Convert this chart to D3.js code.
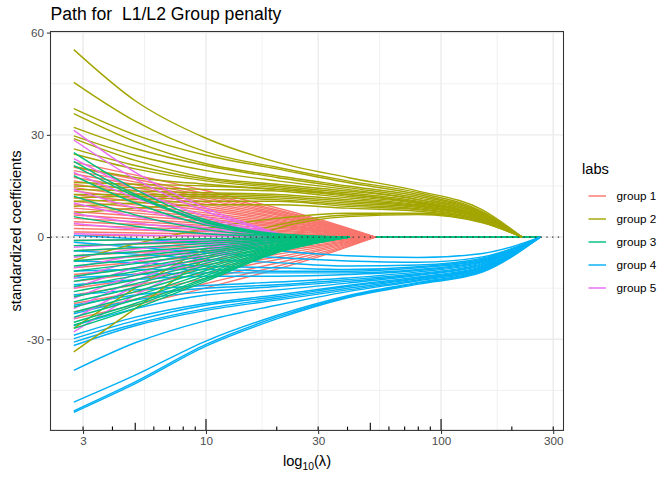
<!DOCTYPE html>
<html><head><meta charset="utf-8">
<script src="https://cdn.jsdelivr.net/npm/d3@7"></script>
<style>body{margin:0;background:#fff}svg{display:block}text{font-family:"Liberation Sans",Arial,Helvetica,sans-serif}</style>
</head><body><svg id="chart" width="672" height="480"></svg>
<script>
const groupLabels = ["group 1","group 2","group 3","group 4","group 5"];
const groupColors = ["#F8766D","#A3A500","#00BF7D","#00B0F6","#E76BF3"];
const xTickValues = [3,10,30,100,300];
const xTickLabels = ["3","10","30","100","300"];
const yTickValues = [-30,0,30,60];
const yTickLabels = ["-30","0","30","60"];
const logTickValues = [3,4,5,6,7,8,9,10,20,30,40,50,60,70,80,90,100,200,300];

// lambda grids (read positions) per group
const lambdaGroup1 = [2.74, 10, 30, 52.5, 264];
const lambdaGroup2 = [2.74, 5, 10, 20, 40, 80, 150, 221, 264];
const lambdaGroup3 = [2.74, 5, 10, 20, 41, 264];
const lambdaGroup4 = [2.74, 5, 10, 20, 40, 80, 150, 264];
const lambdaGroup5 = [2.74, 5, 10, 22.8, 264];

const group1Values = [
[22,13.6,5.3,0,0],[20.5,12.7,4.9,0,0],[19.5,12.1,4.7,0,0],[18.5,11.5,4.4,0,0],
[17.5,10.9,4.2,0,0],[16.5,10.2,4.0,0,0],[15.5,9.6,3.7,0,0],[14.5,9.0,3.5,0,0],
[13.5,8.4,3.2,0,0],[12.5,7.8,3.0,0,0],[11.5,7.1,2.8,0,0],[10.5,6.5,2.5,0,0],
[9.5,5.9,2.3,0,0],[8.5,5.3,2.0,0,0],[7.5,4.7,1.8,0,0],[6.5,4.0,1.6,0,0],
[5.5,3.4,1.3,0,0],[4.5,2.8,1.1,0,0],[3.5,2.2,0.8,0,0],[2.5,1.6,0.6,0,0],
[1.5,0.9,0.4,0,0],[0.5,0.3,0.1,0,0],[-1,-0.6,-0.2,0,0],[-2.5,-1.6,-0.6,0,0],
[-4,-2.5,-1.0,0,0],[-5.5,-3.4,-1.3,0,0],[-7,-4.3,-1.7,0,0],[-9,-5.6,-2.2,0,0],
[-11,-6.8,-2.6,0,0],[-13,-8.1,-3.1,0,0],[-15,-9.3,-3.6,0,0],[-17,-10.5,-4.1,0,0],
[-19.5,-12.1,-4.7,0,0],[-22,-13.6,-5.3,0,0],[-24,-14.9,-5.8,0,0]
];
const group2Values = [
[55,40,29,22,17.5,13.5,8,0,0],
[45.4,34,25,20.5,16.5,13,7.5,0,0],
[37.7,30,24,20,16,12.5,7.2,0,0],
[36.2,28,21.5,18,15,12,7,0,0],
[32.2,26,21,17.5,14.5,11.5,6.8,0,0],
[29.7,24,19.5,16.5,14,11,6.5,0,0],
[28.9,22.5,17.5,15.5,13.5,11,6.5,0,0],
[25.9,21,17,15,13,10.5,6.2,0,0],
[24.4,20,16.5,14.5,12.5,10.2,6,0,0],
[20.7,17.5,15.5,14,12.5,10,6,0,0],
[16,15.5,15,14,12,9.8,5.8,0,0],
[15,14.5,14,13.5,11.5,9.5,5.6,0,0],
[14,13.5,13,12.5,11,9.2,5.5,0,0],
[12.5,12.5,12.5,12,10.5,9,5.4,0,0],
[11.5,12,12,11.5,10,8.7,5.2,0,0],
[10.5,11,11.5,11,9.5,8.3,5,0,0],
[9,10,10.5,10.5,9,8,4.8,0,0],
[7,8.5,9.5,9.5,8.5,7.6,4.6,0,0],
[-6.8,-2,2.5,5.5,7,7,4.4,0,0],
[-26.8,-15,-3.5,3.5,6.5,6.8,4.3,0,0],
[-33.7,-21,-6.5,2.5,6,6.6,4.2,0,0]
];
const group3Values = [
[24.8,14,5,1,0,0],[22.2,12.5,4.5,0.8,0,0],[21,12,4.2,0.8,0,0],[18,10,3.5,0.6,0,0],
[12,6.5,2.2,0.4,0,0],[6,3.2,1,0.2,0,0],
[-1,-0.8,-0.5,-0.2,0,0],[-2.5,-2,-1.2,-0.4,0,0],[-4,-3.1,-1.9,-0.7,0,0],
[-5.5,-4.3,-2.6,-0.9,0,0],[-7,-5.5,-3.4,-1.2,0,0],[-8.5,-6.6,-4.1,-1.4,0,0],
[-10,-7.8,-4.8,-1.7,0,0],[-11.5,-9,-5.5,-2,0,0],[-13,-10.1,-6.2,-2.2,0,0],
[-14.5,-11.3,-7,-2.5,0,0],[-16,-12.5,-7.7,-2.7,0,0],[-17.5,-13.7,-8.4,-3,0,0],
[-19,-14.8,-9.1,-3.2,0,0],[-20.5,-16,-9.8,-3.5,0,0],[-22,-17.2,-10.6,-3.7,0,0],
[-23.5,-18.3,-11.3,-4,0,0],[-25,-19.5,-12,-4.2,0,0],[-25.8,-20.1,-12.4,-4.4,0,0],
[-26.8,-20.9,-12.9,-4.6,0,0]
];
const group4Values = [
[-51.4,-43,-32,-24,-17.8,-13.8,-10.3,0],
[-51.0,-42.5,-31.5,-23.5,-17.5,-13.5,-10,0],
[-48.4,-40.5,-30.5,-23,-17.2,-13.3,-9.8,0],
[-39.1,-31,-24.5,-20,-16,-12.8,-9.5,0],
[-31.8,-26,-21.5,-18.5,-15.5,-12.5,-9.2,0],
[-30.8,-25.5,-21,-18,-15,-12.2,-9,0],
[-29.8,-24.5,-20,-17.5,-14.5,-12,-8.8,0],
[-28.8,-23.5,-19.5,-17,-14.2,-11.7,-8.6,0],
[-26,-21,-17,-15.5,-13.5,-11.2,-8.3,0],
[-22.5,-18.5,-16,-14.5,-13,-11,-8,0],
[-20,-17,-15,-14,-12.5,-10.7,-7.8,0],
[-17,-15.5,-14.2,-13.2,-12,-10.2,-7.5,0],
[-14,-12.5,-11.5,-11.5,-11,-9.8,-7.2,0],
[-12,-11,-10.5,-10.5,-10.5,-9.5,-7,0],
[-10,-9.5,-9.5,-10,-10,-9,-6.8,0],
[-7,-7.5,-8.5,-9,-9.5,-8.7,-6.5,0],
[-4,-5,-6.5,-7.5,-8.5,-8.2,-6.2,0],
[-1.5,-3,-4.5,-6,-7,-7.4,-5.8,0],
[0.5,-0.5,-2,-4,-5.5,-6,-4.8,0]
];
const group5Values = [
[31.3,19,8.5,0,0],[28.5,17,7.5,0,0],[23,14,6,0,0],[19,11.5,5,0,0],
[14,8.5,3.8,0,0],[10,6,2.7,0,0],[7,4.2,1.9,0,0],[4,2.4,1.1,0,0],
[1,0.6,0.3,0,0],[-3,-1.8,-0.8,0,0],[-6,-3.6,-1.6,0,0],[-9,-5.4,-2.4,0,0],
[-12,-7.2,-3.2,0,0],[-15,-9,-4,0,0],[-18,-11,-4.8,0,0],[-21,-12.8,-5.6,0,0],
[-24,-14.5,-6.4,0,0],[-27.8,-17,-7.5,0,0]
];

const groups = [
  {lambda: lambdaGroup1, values: group1Values},
  {lambda: lambdaGroup2, values: group2Values},
  {lambda: lambdaGroup3, values: group3Values},
  {lambda: lambdaGroup4, values: group4Values},
  {lambda: lambdaGroup5, values: group5Values}
];

const panel = {left: 50.5, right: 563.5, top: 31.5, bottom: 430.4};
const svg = d3.select("#chart");

// build series
const series = [];
groups.forEach((g, gi) => {
  g.values.forEach((row, ri) => {
    const pts = g.lambda.map((l, i) => ({l, v: row[i]}));
    let k = pts.length - 1;
    while (k > 0 && pts[k].v === 0) k--;
    const zi = Math.min(k + 1, pts.length - 1);
    series.push({g: gi, r: ri, active: pts.slice(0, zi + 1), tail: pts.slice(zi)});
  });
});
const allL = groups.flatMap(g => g.lambda);
const allV = groups.flatMap(g => g.values.flat());
const lx = d3.extent(allL).map(Math.log10);
const ex = (lx[1] - lx[0]) * 0.05;
const vy = d3.extent(allV);
const ey = (vy[1] - vy[0]) * 0.05;

const x = d3.scaleLog().domain([Math.pow(10, lx[0] - ex), Math.pow(10, lx[1] + ex)]).range([panel.left, panel.right]);
const y = d3.scaleLinear().domain([vy[0] - ey, vy[1] + ey]).range([panel.bottom, panel.top]);

// gridlines
const gGrid = svg.append("g");
const minorX = [];
for (let i = 0; i < xTickValues.length - 1; i++) minorX.push(Math.sqrt(xTickValues[i] * xTickValues[i + 1]));
const minorY = [];
for (let i = 0; i < yTickValues.length - 1; i++) minorY.push((yTickValues[i] + yTickValues[i + 1]) / 2);
const yMinorAll = [yTickValues[0] - 15].concat(minorY).filter(v => y(v) <= panel.bottom && y(v) >= panel.top);
gGrid.selectAll(".mx").data(minorX).join("line")
  .attr("x1", d => x(d)).attr("x2", d => x(d)).attr("y1", panel.top).attr("y2", panel.bottom)
  .attr("stroke", "#EBEBEB").attr("stroke-width", 0.71);
gGrid.selectAll(".my").data(yMinorAll).join("line")
  .attr("y1", d => y(d)).attr("y2", d => y(d)).attr("x1", panel.left).attr("x2", panel.right)
  .attr("stroke", "#EBEBEB").attr("stroke-width", 0.71);
gGrid.selectAll(".Mx").data(xTickValues).join("line")
  .attr("x1", d => x(d)).attr("x2", d => x(d)).attr("y1", panel.top).attr("y2", panel.bottom)
  .attr("stroke", "#EBEBEB").attr("stroke-width", 1.42);
gGrid.selectAll(".My").data(yTickValues).join("line")
  .attr("y1", d => y(d)).attr("y2", d => y(d)).attr("x1", panel.left).attr("x2", panel.right)
  .attr("stroke", "#EBEBEB").attr("stroke-width", 1.42);

// lines
const lineGen = d3.line().x(d => x(d.l)).y(d => y(d.v)).curve(d3.curveMonotoneX);
const tailGen = d3.line().x(d => x(d.l)).y(d => y(d.v));
const gLines = svg.append("g").attr("fill", "none").attr("stroke-width", 1.42).attr("stroke-linejoin", "round");
const drawOrder = [0, 3, 1, 4, 2];
drawOrder.forEach(gi => {
  series.filter(s => s.g === gi && s.tail.length > 1).forEach(s => {
    gLines.append("path").attr("d", tailGen(s.tail)).attr("stroke", groupColors[gi]);
  });
});
drawOrder.forEach(gi => {
  series.filter(s => s.g === gi).forEach(s => {
    gLines.append("path").attr("d", lineGen(s.active)).attr("stroke", groupColors[gi]);
  });
});

// zero dotted line
svg.append("line").attr("x1", panel.left).attr("x2", panel.right).attr("y1", y(0)).attr("y2", y(0))
  .attr("stroke", "#333").attr("stroke-width", 1.3).attr("stroke-dasharray", "1.3,4.4");

// log ticks
const gLog = svg.append("g");
const dom = x.domain();
gLog.selectAll("line").data(logTickValues.filter(v => v >= dom[0] && v <= dom[1])).join("line")
  .attr("x1", d => x(d)).attr("x2", d => x(d)).attr("y1", panel.bottom)
  .attr("y2", d => {
    const m = d / Math.pow(10, Math.floor(Math.log10(d) + 1e-9));
    const len = Math.abs(m - 1) < 1e-6 ? 11.34 : (Math.abs(m - 5) < 1e-6 ? 7.56 : 3.78);
    return panel.bottom - len;
  })
  .attr("stroke", "#000").attr("stroke-width", 1.1);

// panel border
svg.append("rect").attr("x", panel.left).attr("y", panel.top)
  .attr("width", panel.right - panel.left).attr("height", panel.bottom - panel.top)
  .attr("fill", "none").attr("stroke", "#333333").attr("stroke-width", 1.07);

// axes
const xAxis = d3.axisBottom(x).tickValues(xTickValues).tickFormat((d, i) => xTickLabels[i]).tickSizeOuter(0).tickSize(3.67).tickPadding(2.9);
const gx = svg.append("g").attr("transform", `translate(0,${panel.bottom})`).call(xAxis);
gx.select(".domain").remove();
gx.selectAll(".tick line").attr("stroke", "#333333").attr("stroke-width", 1.07);
gx.selectAll(".tick text").attr("fill", "#4D4D4D").attr("font-size", "11.73px").attr("font-family", '"Liberation Sans",Arial,sans-serif');

const yAxis = d3.axisLeft(y).tickValues(yTickValues).tickFormat((d, i) => yTickLabels[i]).tickSizeOuter(0).tickSize(3.67).tickPadding(2.9);
const gy = svg.append("g").attr("transform", `translate(${panel.left},0)`).call(yAxis);
gy.select(".domain").remove();
gy.selectAll(".tick line").attr("stroke", "#333333").attr("stroke-width", 1.07);
gy.selectAll(".tick text").attr("fill", "#4D4D4D").attr("font-size", "11.73px").attr("font-family", '"Liberation Sans",Arial,sans-serif');

// titles
svg.append("text").attr("x", panel.left).attr("y", 20).attr("font-size", "17.6px").attr("fill", "#000")
  .attr("xml:space", "preserve").style("white-space", "pre").text("Path for  L1/L2 Group penalty");

svg.append("text").attr("transform", `translate(21,${(panel.top + panel.bottom) / 2}) rotate(-90)`)
  .attr("text-anchor", "middle").attr("font-size", "14.67px").attr("fill", "#000").text("standardized coefficients");

const xt = svg.append("text").attr("x", (panel.left + panel.right) / 2).attr("y", 466)
  .attr("text-anchor", "middle").attr("font-size", "14.67px").attr("fill", "#000");
xt.append("tspan").text("log");
xt.append("tspan").attr("font-size", "10.3px").attr("dy", 3.5).text("10");
xt.append("tspan").attr("dy", -3.5).text("(λ)");

// legend
const lg = svg.append("g");
lg.append("text").attr("x", 582).attr("y", 174).attr("font-size", "14.67px").attr("fill", "#000").text("labs");
groupLabels.forEach((lab, i) => {
  const yy = 196 + i * 23;
  lg.append("line").attr("x1", 588.5).attr("x2", 606).attr("y1", yy).attr("y2", yy)
    .attr("stroke", groupColors[i]).attr("stroke-width", 1.42);
  lg.append("text").attr("x", 616.5).attr("y", yy).attr("dy", "0.35em").attr("font-size", "11.73px").attr("fill", "#000").text(lab);
});
</script></body></html>
